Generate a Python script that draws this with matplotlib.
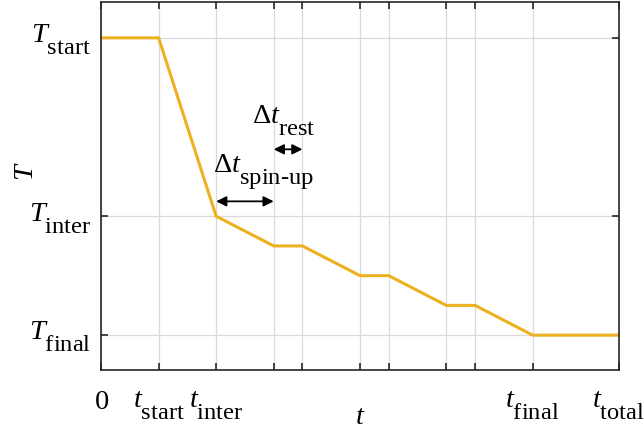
import matplotlib
matplotlib.use('Agg')
import matplotlib.pyplot as plt
import matplotlib._mathtext as mt
from matplotlib.transforms import blended_transform_factory, offset_copy

plt.rcParams['mathtext.fontset'] = 'custom'
plt.rcParams['mathtext.rm'] = 'Liberation Serif'
plt.rcParams['mathtext.it'] = 'Liberation Serif:italic'
plt.rcParams['font.family'] = 'Liberation Serif'
# big, low subscripts like the original figure
mt.SHRINK_FACTOR = 0.86
mt.FontConstantsBase.sub1 = 0.95

# temperature schedule
t = [0, 1, 2, 3, 3.5, 4.5, 5, 6, 6.5, 7.5, 9]
T = [11, 11, 5, 4, 4, 3, 3, 2, 2, 1, 1]

xticks = [0, 1, 2, 3, 3.5, 4.5, 5, 6, 6.5, 7.5, 9]
xlabels = ['$0$', r'$t_{\rm start}$', r'$t_{\rm inter}$', '', '', '', '', '', '',
           r'$t_{\rm final}$', r'$t_{\rm total}$']
yticks = [1, 5, 11]
ylabels = [r'$T_{\rm final}$', r'$T_{\rm inter}$', r'$T_{\rm start}$']

fs = 20.5

fig = plt.figure(figsize=(6.44, 4.34), dpi=100)
ax = fig.add_axes([0.157, 0.147, 0.804, 0.848])

ax.plot(t, T, color='#EDB120', lw=2.2, solid_joinstyle='miter')

ax.set_xlim(0, 9)
ax.set_ylim(-0.18, 12.2)
ax.set_xticks(xticks)
ax.set_xticklabels(xlabels, fontsize=fs)
ax.set_yticks(yticks)
ax.set_yticklabels([])
ax.tick_params(direction='in', length=5, width=1.2, top=True, right=True,
               color='#262626', pad=14)
ax.grid(True, color='#dadada', lw=0.9)
for s in ax.spines.values():
    s.set_color('#262626')
    s.set_linewidth(1.2)

# y tick labels: main letter baseline a little under the tick
ytrans = offset_copy(blended_transform_factory(ax.transAxes, ax.transData),
                     fig=fig, x=-10, y=-5, units='dots')
for val, lab in zip(yticks, ylabels):
    ax.text(0, val, lab, transform=ytrans, ha='right', va='baseline', fontsize=fs)

ax.set_xlabel('$t$', fontsize=fs, labelpad=-12)
ax.set_ylabel('$T$', fontsize=fs)
ax.yaxis.set_label_coords(-0.119, 0.54)

# interval arrows
arr = dict(arrowstyle='<|-|>', color='black', lw=1.3, mutation_scale=15,
           shrinkA=0, shrinkB=0)
ax.annotate('', xy=(2, 5.5), xytext=(3, 5.5), arrowprops=arr)
ax.annotate('', xy=(3, 7.25), xytext=(3.5, 7.25), arrowprops=arr)
ax.text(1.95, 6.45, r'$\Delta t_{\rm spin\text{-}up}$', fontsize=fs)
ax.text(2.62, 8.1, r'$\Delta t_{\rm rest}$', fontsize=fs)

fig.savefig('out.png')
